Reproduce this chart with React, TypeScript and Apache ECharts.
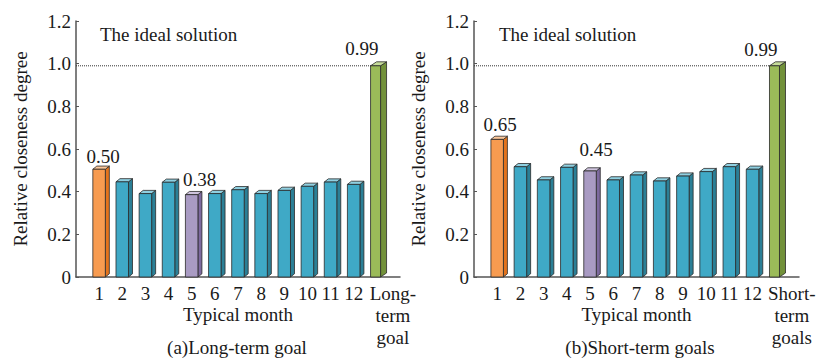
import React, { useEffect, useRef } from "react";
import * as echarts from "echarts";

// ---- data ----
const categoriesA = ["", "1", "2", "3", "4", "5", "6", "7", "8", "9", "10", "11", "12", "Long-\nterm\ngoal", ""];
const categoriesB = ["", "1", "2", "3", "4", "5", "6", "7", "8", "9", "10", "11", "12", "Short-\nterm\ngoals", ""];
const valuesA = [0.505, 0.446, 0.391, 0.444, 0.386, 0.391, 0.409, 0.391, 0.406, 0.425, 0.445, 0.434, 0.99];
const valuesB = [0.645, 0.517, 0.455, 0.514, 0.497, 0.455, 0.478, 0.45, 0.473, 0.494, 0.517, 0.505, 0.99];
const labelsA = ["0.50", "0.38", "0.99"]; // for best month, worst month, goal
const labelsB = ["0.65", "0.45", "0.99"];
const idealValue = 0.99;
const yTicks = [0, 0.2, 0.4, 0.6, 0.8, 1.0, 1.2];
const captionA = "(a)Long-term goal";
const captionB = "(b)Short-term goals";

// ---- styles ----
const FONT = "Liberation Serif";
const FS = 19;
const TXT = "#1a1a1a";
const AXIS = "#555555";
const PAL = {
  blue: { front: "#3fa9c6", side: "#2b7f96", top: "#8fd0e1" },
  orange: { front: "#f79b50", side: "#e3731c", top: "#fbc79a" },
  purple: { front: "#a99bc3", side: "#7d6a9f", top: "#cfc4de" },
  green: { front: "#9bbb59", side: "#72913a", top: "#c6dc9a" },
};
const HILITE = [0, 4, 12];
const HILITE_COLORS = [PAL.orange, PAL.purple, PAL.green];
const LABEL_OFFSETS_A = [[4, -12.6], [8, -15.3], [-15, -17]];
const LABEL_OFFSETS_B = [[3, -14.8], [6, -21], [-15, -16.7]];

function makeRender(labels: string[], offsets: number[][]) {
  return (params: any, api: any) => {
    const idx = api.value(0);
    const v = api.value(1);
    const top = api.coord([idx, v]);
    const base = api.coord([idx, 0]);
    const isGoal = params.dataIndex === HILITE[2];
    const w = isGoal ? 10 : 12.5;
    const d = isGoal ? 6 : 4;
    const h = isGoal ? 4 : 3.2;
    const fl = top[0] - 6.3;
    const fr = fl + w;
    const ty = top[1];
    const by = base[1];
    const hi = HILITE.indexOf(params.dataIndex);
    const c = hi >= 0 ? HILITE_COLORS[hi] : PAL.blue;
    const stroke = "#2a2a2a";
    const lw = 0.8;
    const children: any[] = [
      { type: "polygon", shape: { points: [[fr, ty], [fr + d, ty - h], [fr + d, by - h], [fr, by]] }, style: { fill: c.side, stroke, lineWidth: lw } },
      { type: "polygon", shape: { points: [[fl, ty], [fl + d, ty - h], [fr + d, ty - h], [fr, ty]] }, style: { fill: c.top, stroke, lineWidth: lw } },
      { type: "rect", shape: { x: fl, y: ty, width: w, height: by - ty }, style: { fill: c.front, stroke, lineWidth: lw } },
    ];
    if (hi >= 0) {
      children.push({
        type: "text",
        style: {
          text: labels[hi],
          x: top[0] + offsets[hi][0],
          y: ty + offsets[hi][1],
          fontSize: FS,
          fontFamily: FONT,
          fill: TXT,
          align: "center",
          verticalAlign: "middle",
        },
      });
    }
    return { type: "group", children };
  };
}

function labelFormatter(value: string) {
  if (value.indexOf("\n") >= 0) {
    return value.split("\n").map((s) => `{g|${s}}`).join("\n");
  }
  return value;
}

function xAxisCfg(gridIndex: number, cats: string[]) {
  return {
    type: "category",
    gridIndex,
    data: cats,
    boundaryGap: false,
    name: "Typical month",
    nameLocation: "middle",
    nameGap: 28,
    nameMoveOverlap: false,
    nameTextStyle: { fontSize: FS, fontFamily: FONT, color: TXT },
    axisLine: { show: true, lineStyle: { color: AXIS, width: 1.5 } },
    axisTick: { show: false },
    splitLine: { show: false },
    axisLabel: {
      interval: 0,
      margin: 5,
      fontSize: FS,
      fontFamily: FONT,
      color: TXT,
      lineHeight: 22,
      hideOverlap: false,
      formatter: labelFormatter,
      rich: { g: { fontSize: FS, fontFamily: FONT, color: TXT, lineHeight: 22, padding: [0, 0, 0, 32] } },
    },
  };
}

function yAxisCfg(gridIndex: number) {
  return {
    type: "value",
    gridIndex,
    min: yTicks[0],
    max: yTicks[yTicks.length - 1],
    interval: yTicks[1] - yTicks[0],
    name: "Relative closeness degree",
    nameLocation: "middle",
    nameGap: 46,
    nameMoveOverlap: false,
    nameTextStyle: { fontSize: FS, fontFamily: FONT, color: TXT },
    axisLine: { show: true, lineStyle: { color: AXIS, width: 1.5 } },
    axisTick: { show: true, inside: true, length: 3, lineStyle: { color: AXIS, width: 1 } },
    splitLine: { show: false },
    axisLabel: {
      margin: 5,
      fontSize: FS,
      fontFamily: FONT,
      color: TXT,
      formatter: (v: number) => (v === 0 ? "0" : v.toFixed(1)),
    },
  };
}

export default function App() {
  const ref = useRef<HTMLDivElement>(null);
  useEffect(() => {
    if (!ref.current) return;
    const chart = echarts.init(ref.current, null, { renderer: "svg" });
    const goalIdx = valuesA.length;
    chart.setOption({
      animation: false,
      backgroundColor: "#ffffff",
      textStyle: { fontFamily: FONT },
      grid: [
        { left: 76, right: 418, top: 21, bottom: 81, outerBoundsMode: "none", containLabel: false },
        { left: 474, right: 19, top: 21, bottom: 81, outerBoundsMode: "none", containLabel: false },
      ],
      xAxis: [xAxisCfg(0, categoriesA), xAxisCfg(1, categoriesB)],
      yAxis: [yAxisCfg(0), yAxisCfg(1)],
      series: [
        {
          type: "line",
          xAxisIndex: 0,
          yAxisIndex: 0,
          data: [[0, idealValue], [goalIdx, idealValue]],
          symbol: "none",
          lineStyle: { color: "#333", width: 1, type: "dotted" },
          z: 1,
        },
        {
          type: "line",
          xAxisIndex: 1,
          yAxisIndex: 1,
          data: [[0, idealValue], [goalIdx, idealValue]],
          symbol: "none",
          lineStyle: { color: "#333", width: 1, type: "dotted" },
          z: 1,
        },
        {
          type: "custom",
          xAxisIndex: 0,
          yAxisIndex: 0,
          data: valuesA.map((v, i) => [i + 1, v]),
          encode: { x: 0, y: 1 },
          renderItem: makeRender(labelsA, LABEL_OFFSETS_A),
          z: 3,
        },
        {
          type: "custom",
          xAxisIndex: 1,
          yAxisIndex: 1,
          data: valuesB.map((v, i) => [i + 1, v]),
          encode: { x: 0, y: 1 },
          renderItem: makeRender(labelsB, LABEL_OFFSETS_B),
          z: 3,
        },
      ],
      graphic: [
        { type: "text", left: 100, top: 25, style: { text: "The ideal solution", fontSize: FS, fontFamily: FONT, fill: TXT } },
        { type: "text", left: 499, top: 25, style: { text: "The ideal solution", fontSize: FS, fontFamily: FONT, fill: TXT } },
        { type: "text", x: 237, y: 347, style: { text: captionA, fontSize: FS, fontFamily: FONT, fill: TXT, align: "center", verticalAlign: "middle" } },
        { type: "text", x: 640, y: 347, style: { text: captionB, fontSize: FS, fontFamily: FONT, fill: TXT, align: "center", verticalAlign: "middle" } },
      ],
    });
    return () => chart.dispose();
  }, []);
  return <div ref={ref} style={{ position: "fixed", left: 0, top: 0, width: 818, height: 358 }} />;
}
